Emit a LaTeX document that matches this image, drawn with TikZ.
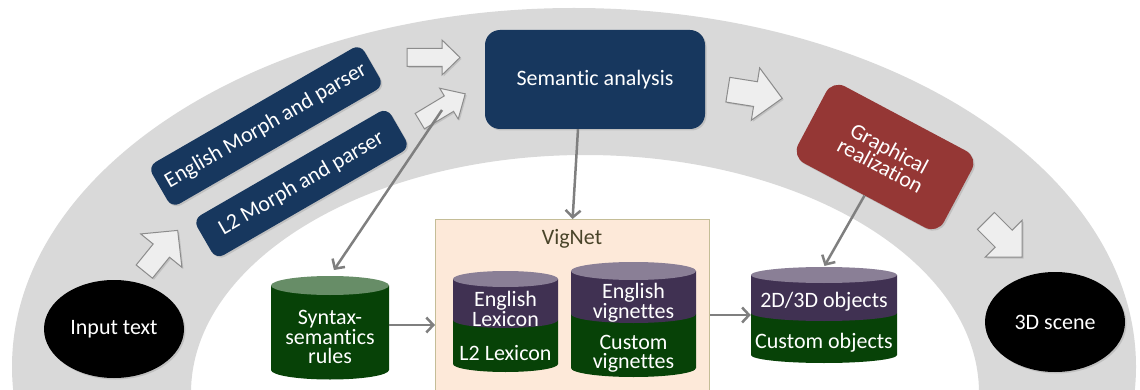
\documentclass[tikz,border=0pt]{standalone}
\usepackage{fontspec}
\setmainfont{Carlito}[Ligatures={NoCommon}]
\usetikzlibrary{arrows.meta,shadows,shapes.geometric}
\definecolor{band}{HTML}{D9D9D9}
\definecolor{navy}{HTML}{17375E}
\definecolor{redb}{HTML}{953735}
\definecolor{connc}{HTML}{7F7F7F}
\definecolor{arrfill}{HTML}{EEEEEE}
\definecolor{arrdraw}{HTML}{8C8C8C}
\definecolor{vigfill}{HTML}{FDE9D9}
\definecolor{vigborder}{HTML}{C4BD97}
\definecolor{vigtext}{HTML}{494429}
\definecolor{cylpurple}{HTML}{403152}
\definecolor{cyltopp}{HTML}{8A7F96}
\definecolor{cylgreen}{HTML}{074207}
\definecolor{cyltopg}{HTML}{678D67}
\newcommand\blockarr[7]{%
 \begin{scope}[shift={(#1,#2)},rotate=#3]
 \draw[barrow] ({-#4/2},{-#5/2}) -- ({#4/2-#7},{-#5/2}) -- ({#4/2-#7},{-#6/2}) -- ({#4/2},0) -- ({#4/2-#7},{#6/2}) -- ({#4/2-#7},{#5/2}) -- ({-#4/2},{#5/2}) -- cycle;
 \end{scope}}
% #1 cx, #2 top ellipse centre y, #3 divide y, #4 bottom y, #5 half width, #6 ry
\newcommand\dualcyl[6]{%
 \fill[cylgreen] ({#1-#5},#3) -- ({#1-#5},#4) arc[start angle=180,end angle=360,x radius=#5pt,y radius=#6pt] -- ({#1+#5},#3) -- cycle;
 \fill[cylpurple] ({#1-#5},#2) -- ({#1-#5},#3) arc[start angle=180,end angle=360,x radius=#5pt,y radius=#6pt] -- ({#1+#5},#2) -- cycle;
 \fill[cyltopp] (#1,#2) ellipse[x radius=#5pt,y radius=#6pt];}
\newcommand\greencyl[5]{%
 \fill[cylgreen] ({#1-#4},#2) -- ({#1-#4},#3) arc[start angle=180,end angle=360,x radius=#4pt,y radius=#5pt] -- ({#1+#4},#2) -- cycle;
 \fill[cyltopg] (#1,#2) ellipse[x radius=#4pt,y radius=#5pt];}
\begin{document}
\begin{tikzpicture}[x=1pt,y=-1pt,font=\fontsize{22}{19.5}\selectfont,
  shad/.style={drop shadow={shadow xshift=1.5pt,shadow yshift=-1.5pt,opacity=0.28}},
  conn/.style={draw=connc,line width=2.5pt,-{Straight Barb[length=7pt,width=15pt]}},
  barrow/.style={fill=arrfill,draw=arrdraw,line width=1pt,line join=miter,shad},
  navybox/.style={fill=navy,text=white,inner sep=0pt,rounded corners=9pt,shad},
  redbox/.style={fill=redb,text=white,inner sep=0pt,rounded corners=14pt,shad,align=center},
  blob/.style={ellipse,fill=black,text=white,inner sep=0pt,shad},
  cylbox/.style={inner sep=0pt,text=white,align=center},
  cyltext/.style={inner sep=0pt,text=white,align=center}]
\useasboundingbox (0,0) rectangle (1140,390);
\begin{scope}
\clip (0,0) rectangle (1140,390);
\fill[band,even odd rule] (574,366.7) ellipse[x radius=562pt,y radius=358.7pt]
  (585,393) ellipse[x radius=394pt,y radius=238pt];
\end{scope}
% VigNet container
\node[draw=vigborder,fill=vigfill,line width=1.2pt,anchor=north west,inner sep=0pt,
  minimum width=274pt,minimum height=190pt] (vig) at (435,219) {};
\node[text=vigtext,inner sep=0pt] (vigl) at (572,239) {VigNet};
% block arrows
\blockarr{161}{251}{51}{53}{21}{53}{26}
\blockarr{433.5}{57.5}{0}{53}{18}{35}{18}
\blockarr{442.5}{107.5}{31}{53}{18}{36}{19}
\blockarr{755}{94}{-9}{55}{25}{53}{27}
\blockarr{1004}{239}{-45}{51}{24}{52}{26}
% main nodes
\node[blob,minimum width=140pt,minimum height=98pt] (inp) at (114,329) {Input text};
\node[blob,minimum width=140pt,minimum height=100pt] (scene) at (1055,322) {3D scene};
\node[navybox,rounded corners=15pt,minimum width=220pt,minimum height=99pt] (sem) at (595,79.5) {Semantic analysis};
\node[navybox,minimum width=245pt,minimum height=48pt,rotate=30] (eng) at (266,126) {English Morph and parser};
\node[navybox,minimum width=224pt,minimum height=46pt,rotate=30] (l2) at (301.5,183.5) {L2 Morph and parser};
\node[redbox,minimum width=165pt,minimum height=87pt,rotate=-28] (grap) at (885,157) {Graphical\\realization};
% cylinders
\greencyl{330}{285.5}{370}{59}{9.5}
\node[cylbox,minimum width=118pt,minimum height=104pt] (syn) at (330,328) {};
\node[cyltext] (synt) at (330,337) {Syntax-\\semantics\\rules};
\dualcyl{505.5}{279}{320}{364}{52.5}{8}
\node[cylbox,minimum width=105pt,minimum height=101pt] (lex) at (505.5,321.5) {};
\node[cyltext] (lexe) at (505.5,309) {English\\Lexicon};
\node[cyltext] (lexl) at (505.5,353) {L2 Lexicon};
\dualcyl{633.5}{271}{314}{368}{62.5}{9}
\node[cylbox,minimum width=125pt,minimum height=115pt] (vgn) at (633.5,319.5) {};
\node[cyltext] (vgne) at (633.5,303) {English\\vignettes};
\node[cyltext] (vgnc) at (633.5,354) {Custom\\vignettes};
\dualcyl{824}{275}{313}{355}{73}{8}
\node[cylbox,minimum width=146pt,minimum height=96pt] (obj) at (824,315) {};
\node[cyltext] (objt) at (824,302) {2D/3D objects};
\node[cyltext] (objc) at (824,343) {Custom objects};
% connectors
\coordinate (lstart) at (442,110);
\draw[conn,shorten >=7pt] (lstart) -- (syn.north);
\draw[conn] ([xshift=-17pt]sem.south) -- (vig.north);
\draw[conn] (syn.east |- 0,325) -- (vig.west |- 0,325);
\draw[conn] (vig.east |- obj.west) -- (obj.west);
\draw[conn,shorten >=1pt] (grap.south) -- (obj.north);
\end{tikzpicture}
\end{document}
